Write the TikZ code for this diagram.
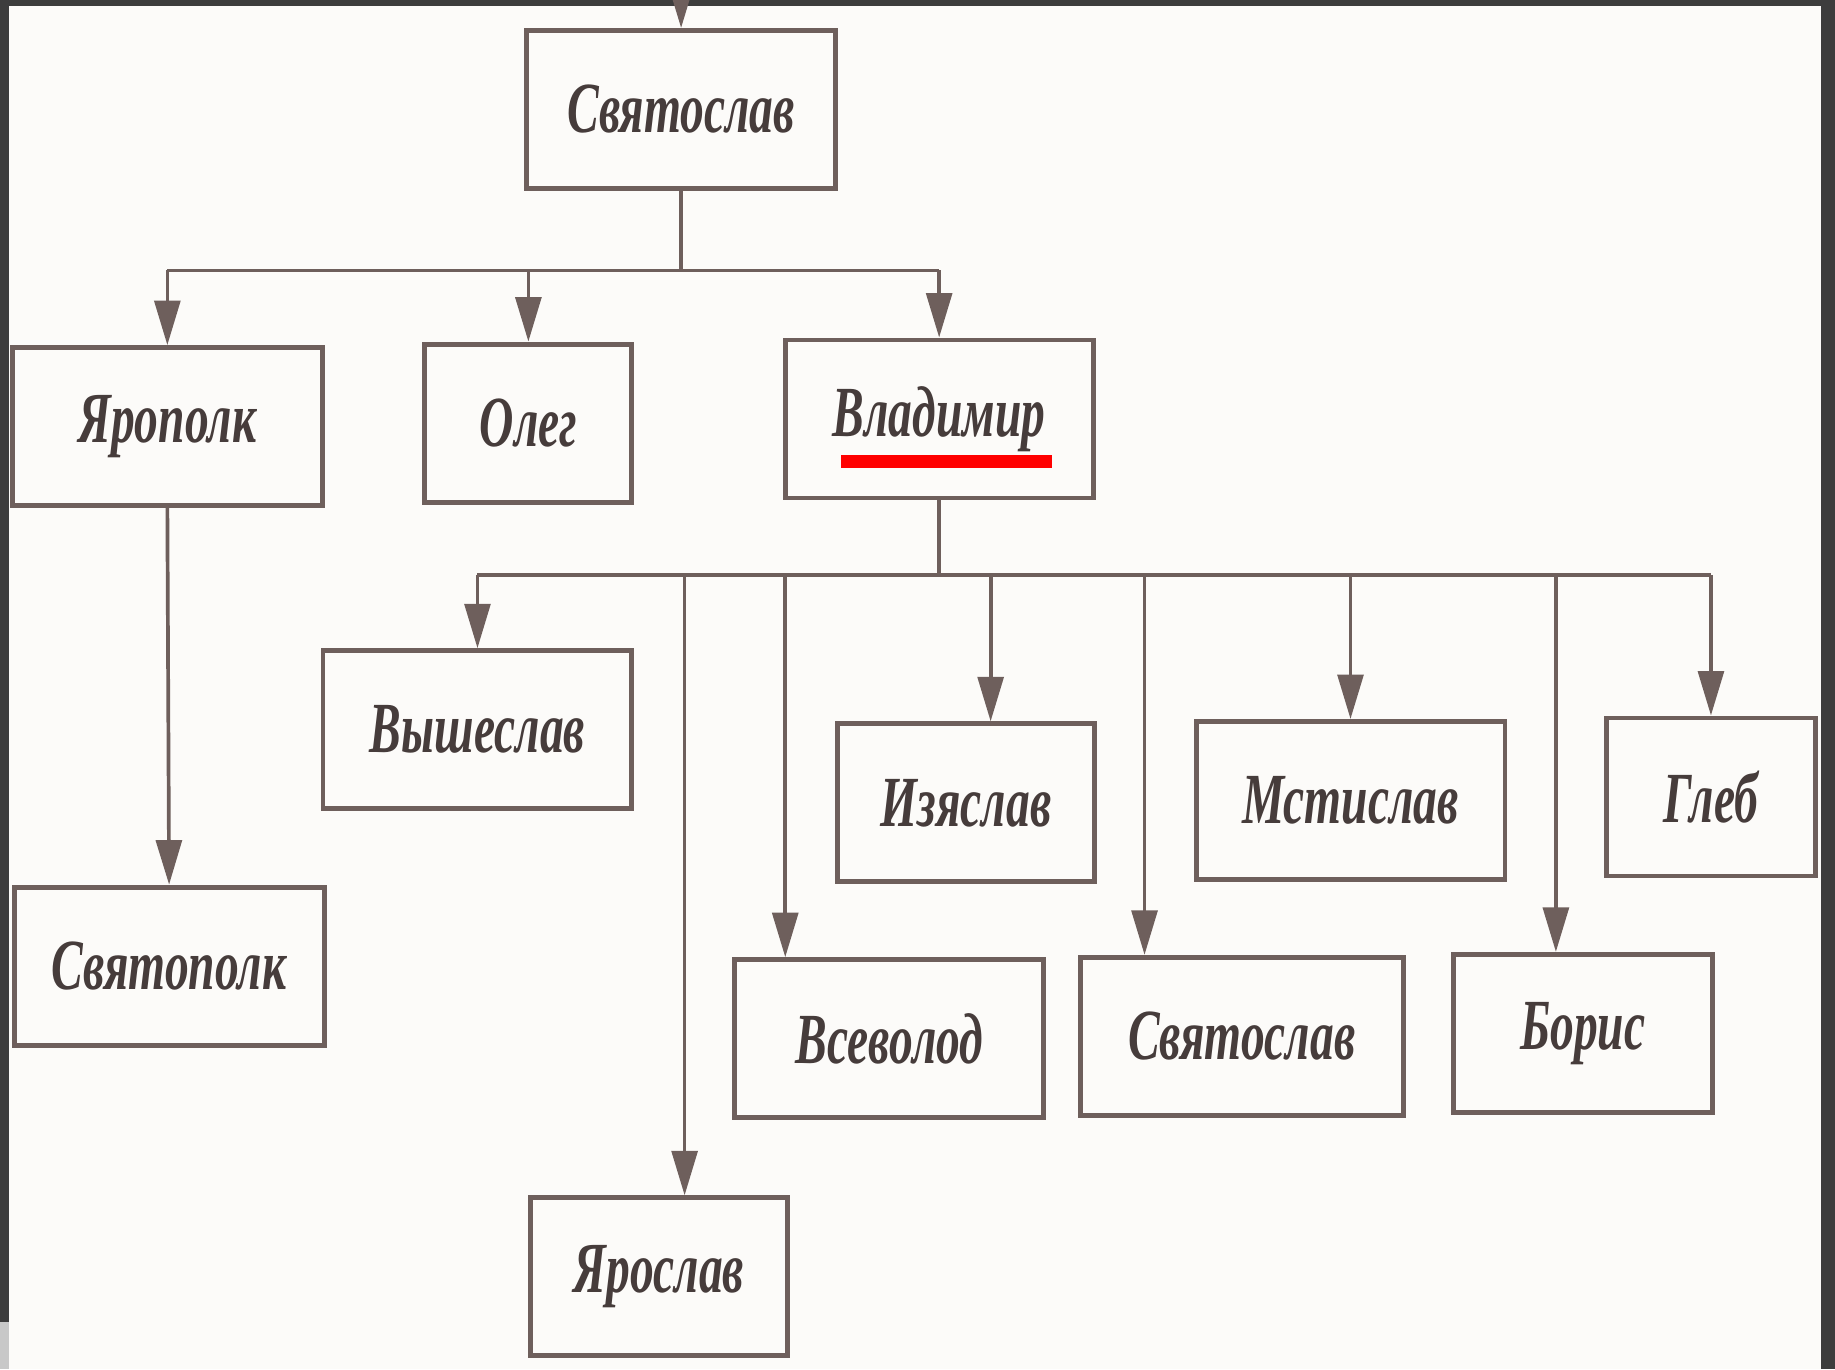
\documentclass[tikz,border=0pt]{standalone}
\usepackage{fontspec}
\usepackage{tikz}
\usetikzlibrary{arrows.meta,calc}
\usepackage{xcolor}
\newfontfamily\namefont{Liberation Serif}[FakeStretch=0.66]
\definecolor{InkLine}{HTML}{6E5F5C}
\definecolor{InkText}{HTML}{463C3B}
\definecolor{Paper}{HTML}{FCFBF9}
\definecolor{ScanEdge}{HTML}{3D3D3D}
\definecolor{ScanGrey}{HTML}{C8C8C8}
\definecolor{MarkRed}{HTML}{FF0000}
\tikzset{
  namebox/.style={draw=InkLine, line width=1.2pt, minimum height=13.5mm, inner sep=0pt,
    text=InkText, font=\namefont\fontsize{17.5}{20}\selectfont\bfseries\itshape},
  link/.style={draw=InkLine, line width=0.9pt},
  arr/.style={link, -{Triangle[width=2.2mm,length=3.8mm]}}
}
\begin{document}
\begin{tikzpicture}[x=0.1mm,y=-0.1mm]
    \fill[ScanEdge] (0,0) rectangle (1568,1170);
    \fill[Paper] (8,5) rectangle (1556,1170);
    \fill[ScanGrey] (0,1130) rectangle (8,1170);
    \useasboundingbox (0,0) rectangle (1568,1170);
    \foreach \name/\x/\y/\w/\txt in {
      svyatoslav/582/93.5/26.4/Святослав,
      yaropolk/143/364.5/26.5/Ярополк,
      oleg/451.5/361.5/17.7/Олег,
      vladimir/802.5/358/26.3/Владимир,
      svyatopolk/144.5/825.5/26.5/Святополк,
      vysheslav/408/623.5/26.4/Вышеслав,
      yaroslav/563/1091/22/Ярослав,
      vsevolod/760/887.5/26.4/Всеволод,
      izyaslav/825.5/686/21.9/Изяслав,
      svyatoslavii/1061/885.5/27.6/Святослав,
      mstislav/1154/684/26.4/Мстислав,
      boris/1352.5/883/22.1/Борис,
      gleb/1462/681/17.8/Глеб} {
     \node[namebox, minimum width=\w mm] (\name) at (\x,\y) {\txt};
    }
    \coordinate (intop) at (582,5);
    \draw[arr] (intop) -- (svyatoslav.north);
    \draw[link] (svyatoslav.south) -- ++(0,68) coordinate (busi);
    \draw[link] (yaropolk.north |- busi) -- (vladimir.north |- busi);
    \foreach \kid in {yaropolk,oleg,vladimir}
      \draw[arr] (\kid.north |- busi) -- (\kid.north);
    \draw[arr] (yaropolk.south) -- (svyatopolk.north);
    \draw[link] (vladimir.south) -- ++(0,64) coordinate (busii);
    \draw[link] (vysheslav.north |- busii) -- (gleb.north |- busii);
    \foreach \kid/\dx in {vysheslav/0,yaroslav/22,vsevolod/-89,izyaslav/21,
                          svyatoslavii/-83,mstislav/0,boris/-23,gleb/0}
      \draw[arr] ([xshift=\dx*0.1mm]\kid.north |- busii) -- ([xshift=\dx*0.1mm]\kid.north);
    \fill[MarkRed] (719,389) rectangle (899,400);
\end{tikzpicture}
\end{document}
